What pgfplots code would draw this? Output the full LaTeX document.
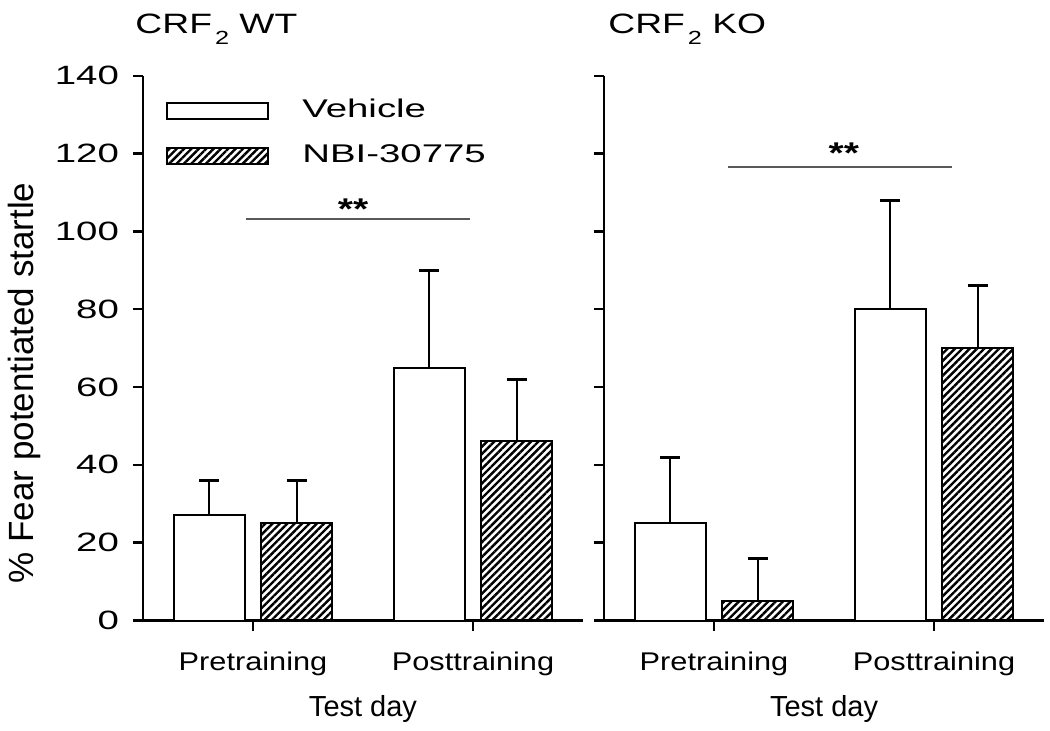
\documentclass[border=0pt]{standalone}
\usepackage{pgfplots}
\pgfplotsset{compat=1.18}
\usepackage{pgfplotstable}
\usepackage{fontspec}
\setmainfont{Liberation Sans}
\newfontfamily\legfont[FakeStretch=1.5]{Liberation Sans}
\newfontfamily\tickfont[FakeStretch=1.45]{Liberation Sans}
\newfontfamily\catfont[FakeStretch=1.2]{Liberation Sans}
\newfontfamily\titfont[FakeStretch=1.33]{Liberation Sans}
\newfontfamily\starfont[FakeStretch=1.3]{Liberation Sans}
\usetikzlibrary{patterns.meta}

% x = bar centre, y = mean, e = upper error
\pgfplotstableread{
x y e
-0.198 27 9
0.802 65 25
}\wtveh
\pgfplotstableread{
x y e
0.198 25 11
1.198 46 16
}\wtnbi
\pgfplotstableread{
x y e
-0.198 25 17
0.802 80 28
}\koveh
\pgfplotstableread{
x y e
0.198 5 11
1.198 70 16
}\konbi

\newcommand{\crf}{CRF\hspace{1.5pt}\raisebox{-5.5pt}{\fontsize{9.5}{10}\selectfont 2}}

\pgfplotsset{
  panel/.style={
    scale only axis, width=220pt, height=272.4pt,
    xmin=-0.5, xmax=1.5, ymin=0, ymax=140,
    axis x line*=bottom, axis y line*=left,
    axis line style={line width=1.2pt, black},
    xtick={0,1}, xticklabels={Pretraining,Posttraining},
    ytick={0,20,...,140},
    tick align=outside, major tick length=5pt,
    tick style={line width=1.2pt, black},
    xticklabel style={font=\catfont\fontsize{12.8}{15}\selectfont, yshift=-7pt},
    yticklabel style={font=\tickfont\fontsize{13.25}{16}\selectfont, xshift=-3.5pt},
    /pgf/number format/assume math mode=true,
    xlabel={Test day},
    xlabel style={font=\fontsize{14.5}{16}\selectfont, at={(axis description cs:0.5,-0.177)}, anchor=base},
    every axis title shift=0pt,
    title style={font=\titfont\fontsize{14}{16}\selectfont, anchor=base west, inner sep=0pt},
    clip=false,
  },
  errstyle/.style={
    error bars/y dir=plus, error bars/y explicit,
    error bars/error bar style={line width=1pt, black},
    error bars/error mark options={rotate=90, line width=1.5pt, mark size=5pt, black}},
  vehbar/.style={ybar, bar width=0.325, bar shift=0pt, draw=black, line width=1pt, fill=white, errstyle},
  nbibar/.style={ybar, bar width=0.325, bar shift=0pt, draw=black, line width=1pt,
    pattern={Lines[angle=45,distance=2.6pt,line width=1.2pt]}, pattern color=black, errstyle},
}

\begin{document}
\begin{tikzpicture}
\path[use as bounding box] (0,0) rectangle (525pt,365pt);

\begin{axis}[panel, at={(71.5pt,54.75pt)}, anchor=south west,
  title={\crf\ WT},
  title style={at={(axis description cs:-0.018,1.0774)}},
  ylabel={\% Fear potentiated startle},
  ylabel style={font=\fontsize{17.5}{18}\selectfont, at={(axis description cs:-0.248,0.436)}, anchor=base},
  legend style={at={(axis description cs:0.052,0.968)}, anchor=north west, draw=none, fill=none,
    inner sep=0pt, font=\legfont\fontsize{12.8}{15}\selectfont, row sep=5.5pt,
    nodes={text height=10pt, text depth=3pt}},
  legend cell align=left,
]
\addplot[vehbar, legend image code/.code={\draw[line width=1pt, fill=white] (0pt,-4pt) rectangle (50.5pt,4pt); \path (63pt,0pt);}]
  table[x=x, y=y, y error=e] {\wtveh};
\addlegendentry{Vehicle}
\addplot[nbibar, legend image code/.code={\draw[line width=1pt, pattern={Lines[angle=45,distance=2.6pt,line width=1.2pt]}] (0pt,-4pt) rectangle (50.5pt,4pt); \path (65pt,0pt);}]
  table[x=x, y=y, y error=e] {\wtnbi};
\addlegendentry{NBI-30775}
\addplot[forget plot, sharp plot, line width=0.9pt, black!65] coordinates {(-0.03,103.2) (0.985,103.2)};
\node[anchor=base, inner sep=0pt, font=\starfont\bfseries\fontsize{15}{16}\selectfont] at (axis cs:0.455,103.0) {**};
\end{axis}

\begin{axis}[panel, at={(302pt,54.75pt)}, anchor=south west,
  title={\crf\ KO},
  title style={at={(axis description cs:0.009,1.0774)}},
  yticklabels={},
]
\addplot[vehbar] table[x=x, y=y, y error=e] {\koveh};
\addplot[nbibar] table[x=x, y=y, y error=e] {\konbi};
\addplot[forget plot, sharp plot, line width=0.9pt, black!65] coordinates {(0.064,116.6) (1.082,116.6)};
\node[anchor=base, inner sep=0pt, font=\starfont\bfseries\fontsize{15}{16}\selectfont] at (axis cs:0.59,117.4) {**};
\end{axis}
\end{tikzpicture}
\end{document}
